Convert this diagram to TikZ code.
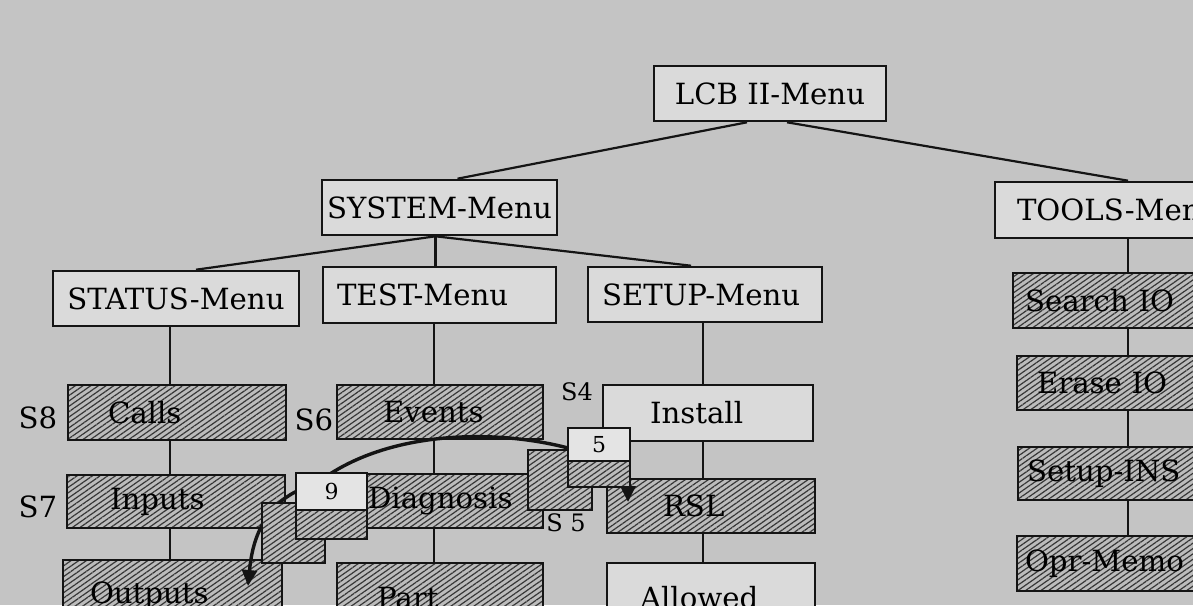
\documentclass[tikz,border=0pt]{standalone}
\usepackage{fontspec}
\setmainfont{DejaVu Serif}
\usetikzlibrary{arrows.meta, patterns.meta}
\hyphenpenalty=10000
\exhyphenpenalty=10000
\definecolor{dotcol}{RGB}{196, 196, 196}
\definecolor{boxcol}{RGB}{218, 218, 218}
\definecolor{cardcol}{RGB}{228, 228, 228}
\definecolor{hatchbg}{RGB}{188, 188, 188}
\definecolor{ink}{RGB}{20, 20, 20}
\tikzset{
  menubox/.style  = {draw=ink, line width=1.3pt, inner sep=0pt,
                     minimum height=27.5pt, font=\fontsize{14.6}{17}\selectfont},
  litebox/.style  = {menubox, fill=boxcol},
  hatchbox/.style = {menubox, preaction={fill=hatchbg},
                     pattern={Lines[angle=35, distance=2.2pt, line width=0.6pt]},
                     pattern color=ink!85},
  % text set from the left edge, as in the scan
  lft/.style 2 args = {align=left, inner xsep=#1, text width=#2},
  tag/.style      = {font=\fontsize{14.6}{17}\selectfont, inner sep=0pt},
  smalltag/.style = {tag, font=\fontsize{12}{14}\selectfont},
  cardtop/.style  = {draw=ink, line width=0.8pt, fill=cardcol, inner sep=0pt,
                     font=\fontsize{11}{13}\selectfont},
  cardhatch/.style = {draw=ink, line width=0.8pt, inner sep=0pt,
                      preaction={fill=hatchbg},
                      pattern={Lines[angle=35, distance=2.2pt, line width=0.6pt]},
                      pattern color=ink!85},
  branch/.style   = {draw=ink, line width=1.1pt},
  stem/.style     = {draw=ink, line width=1pt},
  link/.style     = {draw=ink, line width=1.7pt,
                     {Triangle[length=8pt, width=7.5pt]}-{Triangle[length=8pt, width=7.5pt]}},
}

\begin{document}
\begin{tikzpicture}[x=0.5pt, y=-0.5pt]

  \useasboundingbox (0,0) rectangle (1193,605);
  \clip (0,0) rectangle (1193,605);
  \fill[dotcol] (0,0) rectangle (1193,605);

  %% ---------------- top ----------------
  \node[litebox, minimum width=116pt] (lcb) at (770,93.5) {LCB II-Menu};
  \node[litebox, minimum width=117.5pt] (system) at (439.5,207.5) {SYSTEM-Menu};
  \node[litebox, lft={11pt}{111pt}, minimum height=28pt] (tools) at (1128,210) {TOOLS-Menu};

  \draw[branch] ([xshift=-11.5pt]lcb.south) -- ([xshift=9pt]system.north);
  \draw[branch] ([xshift=8.5pt]lcb.south) -- (tools.north);

  %% ---------------- menus under SYSTEM ----------------
  \node[litebox, minimum width=123pt] (status) at (176,298.5) {STATUS-Menu};
  \node[litebox, lft={7pt}{102.5pt}, minimum height=28pt] (test) at (439.5,295) {TEST-Menu};
  \node[litebox, lft={7pt}{103pt}] (setup) at (705,294.5) {SETUP-Menu};

  \draw[branch] ([xshift=-2pt]system.south) -- ([xshift=10pt]status.north);
  \draw[branch] ([xshift=-2pt]system.south) -- ([xshift=-2pt]test.north);
  \draw[branch] ([xshift=-2pt]system.south) -- ([xshift=-7pt]setup.north);

  %% ---------------- STATUS column ----------------
  \node[hatchbox, lft={20pt}{69pt}] (calls) at (177,412.5) {Calls};
  \node[hatchbox, lft={21.5pt}{66pt}, minimum height=26.5pt] (inputs) at (176,501.5) {Inputs};
  \node[hatchbox, lft={13.5pt}{82.5pt}, minimum height=36pt] (outputs) at (172.5,596) {Outputs};
  \coordinate (colA) at ([xshift=-3pt]status.south);
  \draw[stem] (colA) -- (colA |- calls.north);
  \draw[stem] (colA |- calls.south) -- (colA |- inputs.north);
  \draw[stem] (colA |- inputs.south) -- (colA |- outputs.north);

  %% ---------------- TEST column ----------------
  \node[hatchbox, lft={23pt}{57pt}, minimum height=27pt] (events) at (440,412) {Events};
  \node[hatchbox, lft={15.5pt}{72pt}, minimum height=27pt] (diag) at (440,501) {Diagnosis};
  \node[hatchbox, lft={20pt}{63pt}, minimum height=35pt] (part) at (440,598) {Part};
  \coordinate (colB) at ([xshift=-2.75pt]test.south);
  \draw[stem] (colB) -- (colB |- events.north);
  \draw[stem] (colB |- events.south) -- (colB |- diag.north);
  \draw[stem] (colB |- diag.south) -- (colB |- part.north);

  %% ---------------- SETUP column ----------------
  \node[litebox, lft={23.5pt}{58pt}, minimum height=28pt] (install) at (708,413) {Install};
  \node[hatchbox, lft={28pt}{48pt}, minimum height=27pt] (rsl) at (711,506) {RSL};
  \node[litebox, lft={16.5pt}{71pt}, minimum height=35pt] (allowed) at (711,598) {Allowed};
  \coordinate (colC) at ([xshift=-1pt]setup.south);
  \draw[stem] (colC) -- (colC |- install.north);
  \draw[stem] (colC |- install.south) -- (colC |- rsl.north);
  \draw[stem] (colC |- rsl.south) -- (colC |- allowed.north);

  %% ---------------- TOOLS column ----------------
  \node[hatchbox, lft={6pt}{103pt}] (search) at (1128,300.5) {Search IO};
  \node[hatchbox, lft={10pt}{91pt}, minimum height=27pt] (erase) at (1128,383) {Erase IO};
  \node[hatchbox, lft={4.5pt}{101pt}, minimum height=26.5pt] (setupins) at (1128,473.5) {Setup-INS};
  \node[hatchbox, lft={4pt}{103pt}] (oprmemo) at (1128,563.5) {Opr-Memo};
  \draw[stem] (tools.south) -- (search.north);
  \draw[stem] (search.south) -- (erase.north);
  \draw[stem] (erase.south) -- (setupins.north);
  \draw[stem] (setupins.south) -- (oprmemo.north);

  %% ---------------- step labels ----------------
  \node[tag] (s8) at (38,418) {S8};
  \node[tag] (s7) at (38,507) {S7};
  \node[tag] (s6) at (314,420) {S6};
  \node[smalltag] (s4) at (577,392) {S4};
  \node[smalltag] (s5) at (566,523) {S 5};

  %% ---------------- the two cards and their link ----------------
  \coordinate (tipO) at (248,586);
  \coordinate (tipR) at (628,502);
  \coordinate (ninetopc) at (331.5,491.5);
  \coordinate (fivetopc) at (599,444.5);

  \draw[link] (tipO) .. controls (251,555) and (256,512) .. (296,491.5)
              -- ([yshift=9.25pt]ninetopc)
              .. controls (400,430) and (500,430) .. (568,448)
              .. controls (602,455) and (628,468) .. (tipR);

  \node[cardhatch, minimum width=31.5pt, minimum height=30pt] (nineback) at (293.5,533) {};
  \node[cardhatch, minimum width=35.5pt, minimum height=14.5pt] (ninebot) at (331.5,524.5) {};
  \node[cardtop, minimum width=35.5pt, minimum height=18.5pt] (ninetop) at (ninetopc) {9};

  \node[cardhatch, minimum width=32pt, minimum height=30pt] (fiveback) at (560,480) {};
  \node[cardhatch, minimum width=31pt, minimum height=13pt] (fivebot) at (599,474) {};
  \node[cardtop, minimum width=31pt, minimum height=16.5pt] (fivetop) at (fivetopc) {5};

\end{tikzpicture}
\end{document}
